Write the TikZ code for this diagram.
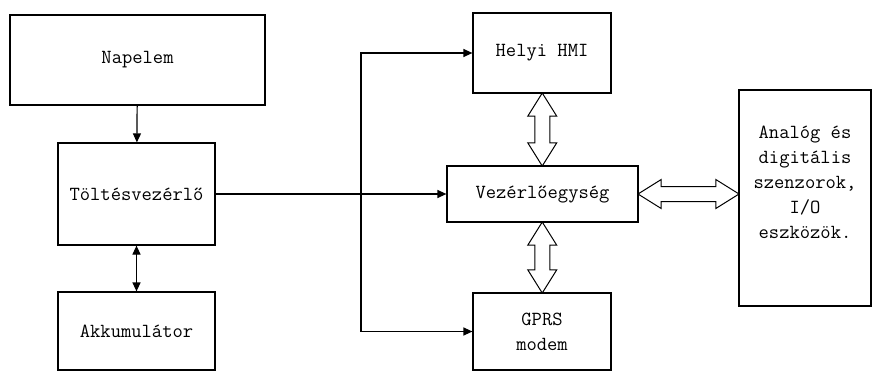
\documentclass[tikz,border=0pt]{standalone}
\usepackage{fontspec}
\usetikzlibrary{arrows.meta,shapes.arrows}

\tikzset{
  blokk/.style={draw, line width=1.2pt, inner sep=2pt, align=center,
    font=\ttfamily\fontsize{20}{25}\selectfont},
  nyil/.style={line width=1.2pt, -{Triangle[length=9pt,width=8pt]}},
  ketnyil/.style={line width=1.2pt, {Triangle[length=9pt,width=8pt]}-{Triangle[length=9pt,width=8pt]}},
  ures/.style={double arrow, draw, line width=1pt, inner sep=0pt,
    text height=7pt, text depth=7pt, minimum width=28pt,
    double arrow head extend=7pt, double arrow tip angle=64}
}

\begin{document}
\begin{tikzpicture}[x=1pt,y=-1pt]
  \useasboundingbox (0,0) rectangle (873,381);

  % bal oldali oszlop
  \node (nap)  [blokk, minimum width=255pt, minimum height=90pt]  at (137.5,60)  {Napelem};
  \node (tolt) [blokk, minimum width=157pt, minimum height=102pt] at (136.5,194) {Töltésvezérlő};
  \node (akku) [blokk, minimum width=157pt, minimum height=78pt]  at (136.5,331) {Akkumulátor};

  % kozepso oszlop
  \node (hmi)  [blokk, minimum width=138pt, minimum height=80pt]  at (542,53)    {Helyi HMI};
  \node (vez)  [blokk, minimum width=191pt, minimum height=56pt]  at (542.5,194) {Vezérlőegység};
  \node (gprs) [blokk, minimum width=138pt, minimum height=77pt]  at (542,331.5) {GPRS\\modem};

  % jobb oldal
  \node (io)   [blokk, minimum width=132pt, minimum height=216pt] at (805,198)
    {Analóg és\\digitális\\szenzorok,\\I/O\\eszközök.\\[6pt]};

  \coordinate (ag) at (361,194);

  \draw[nyil] (nap) -- (tolt);
  \draw[ketnyil] (tolt) -- (akku);
  \draw[nyil] (tolt) -- (vez);
  \draw[nyil] (ag) |- (hmi.west);
  \draw[nyil] (ag) |- (gprs.west);

  % ureges kettos nyilak
  \path (hmi.south) -- (vez.north) node (n1) [ures, midway, rotate=90, minimum height=73pt] {};
  \path (vez.south) -- (gprs.north) node (n2) [ures, midway, rotate=90, minimum height=71pt] {};
  \path (vez.east) -- (io.west |- vez.east) node (n3) [ures, midway, minimum height=101pt] {};
\end{tikzpicture}
\end{document}
